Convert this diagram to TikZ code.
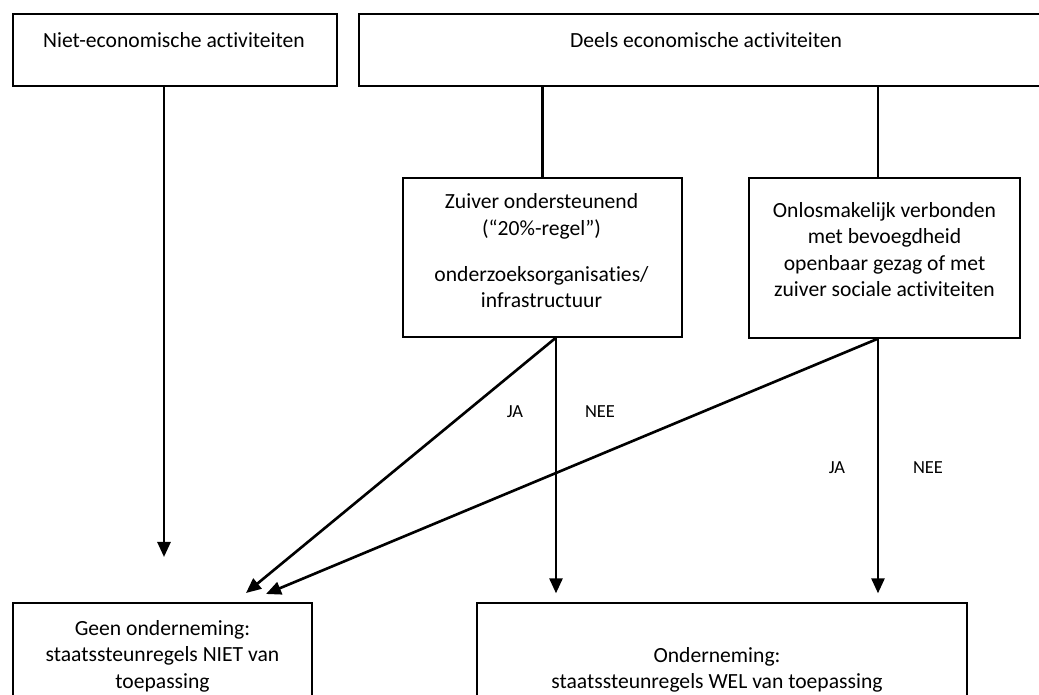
\documentclass[tikz,border=0pt]{standalone}
\usepackage{fontspec}
\setmainfont{Carlito}[Ligatures=NoCommon]
\usetikzlibrary{arrows.meta}

\tikzset{
  box/.style={draw, line width=0.75pt, inner sep=0pt},
  txt/.style={align=center, inner sep=0pt, font=\fontsize{12.3}{15.1}\selectfont},
  yesno/.style={inner sep=0pt, anchor=base, font=\fontsize{10.5}{12}\selectfont},
  link/.style={line width=1.5pt},
  arr/.style={line width=1.5pt, -{Triangle[length=0.3cm, width=0.26cm]}}
}

\begin{document}
\begin{tikzpicture}[x=0.02cm, y=-0.02cm]
  \useasboundingbox (0,0) rectangle (1039,695);
  \clip (0,0) rectangle (1039,695);

  % Top row
  \node[box, minimum width=6.48cm, minimum height=1.44cm] (niet) at (175,50) {};
  \node[txt, anchor=base] (nietT) at (174,48) {Niet-economische activiteiten};
  \node[box, minimum width=13.88cm, minimum height=1.44cm] (deels) at (706,50) {};
  \node[txt, anchor=base] (deelsT) at (706,48) {Deels economische activiteiten};

  % Middle row
  \node[box, minimum width=5.58cm, minimum height=3.18cm] (zuiver) at (542.5,257.5) {};
  \node[txt] (zuiverT) at (541.5,251) {Zuiver ondersteunend\\(“20\%-regel”)\\[11pt]onderzoeksorganisaties/\\infrastructuur};
  \node[box, minimum width=5.42cm, minimum height=3.2cm] (onlos) at (884.5,258) {};
  \node[txt] (onlosT) at (884.5,249.5) {Onlosmakelijk verbonden\\met bevoegdheid\\openbaar gezag of met\\zuiver sociale activiteiten};

  % Bottom row
  \node[box, minimum width=5.98cm, minimum height=2.6cm] (geen) at (162.5,668) {};
  \node[txt] (geenT) at (162.5,656) {Geen onderneming:\\staatssteunregels NIET van\\toepassing};
  \node[box, minimum width=9.8cm, minimum height=2.6cm] (onderneming) at (722,668) {};
  \node[txt] (ondernemingT) at (717,670) {Onderneming:\\staatssteunregels WEL van toepassing};

  % x positions of the connectors
  \coordinate (xa) at (164,0);
  \coordinate (xc) at (878,0);
  \coordinate (xd) at (556,0);
  \coordinate (nietend) at (164,557);
  \coordinate (tip1) at (246,593);
  \coordinate (tip2) at (266,594);

  % Connectors
  \draw[arr] (niet.south -| xa) -- (nietend);
  \draw[link] (deels.south -| zuiver.north) -- (zuiver.north);
  \draw[link] (deels.south -| xc) -- (onlos.north -| xc);
  \draw[arr] (zuiver.south -| xd) -- (tip1);
  \draw[arr, shorten >=0.18cm] (zuiver.south -| xd) -- (onderneming.north -| xd);
  \draw[arr] (onlos.south -| xc) -- (tip2);
  \draw[arr, shorten >=0.18cm] (onlos.south -| xc) -- (onderneming.north -| xc);

  % Labels
  \node[yesno] (ja1) at (515,418) {JA};
  \node[yesno] (nee1) at (600,418) {NEE};
  \node[yesno] (ja2) at (837,474) {JA};
  \node[yesno] (nee2) at (928,474) {NEE};
\end{tikzpicture}
\end{document}
